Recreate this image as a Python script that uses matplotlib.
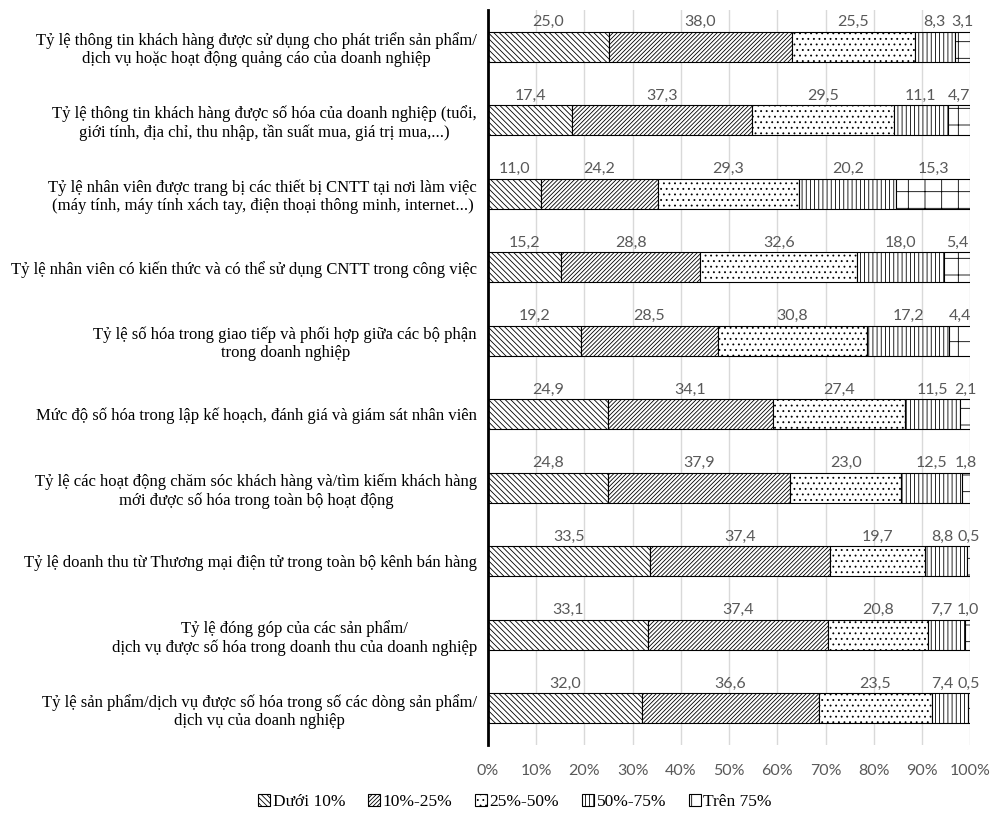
import numpy as np
import matplotlib
matplotlib.use('Agg')
import matplotlib.pyplot as plt
from matplotlib.patches import Patch

plt.rcParams['hatch.linewidth'] = 0.6

categories = [
    'Tỷ lệ thông tin khách hàng được sử dụng cho phát triển sản phẩm/\ndịch vụ hoặc hoạt động quảng cáo của doanh nghiệp',
    'Tỷ lệ thông tin khách hàng được số hóa của doanh nghiệp (tuổi,\ngiới tính, địa chỉ, thu nhập, tần suất mua, giá trị mua,...)',
    'Tỷ lệ nhân viên được trang bị các thiết bị CNTT tại nơi làm việc\n(máy tính, máy tính xách tay, điện thoại thông minh, internet...)',
    'Tỷ lệ nhân viên có kiến thức và có thể sử dụng CNTT trong công việc',
    'Tỷ lệ số hóa trong giao tiếp và phối hợp giữa các bộ phận\ntrong doanh nghiệp',
    'Mức độ số hóa trong lập kế hoạch, đánh giá và giám sát nhân viên',
    'Tỷ lệ các hoạt động chăm sóc khách hàng và/tìm kiếm khách hàng\nmới được số hóa trong toàn bộ hoạt động',
    'Tỷ lệ doanh thu từ Thương mại điện tử trong toàn bộ kênh bán hàng',
    'Tỷ lệ đóng góp của các sản phẩm/\ndịch vụ được số hóa trong doanh thu của doanh nghiệp',
    'Tỷ lệ sản phẩm/dịch vụ được số hóa trong số các dòng sản phẩm/\ndịch vụ của doanh nghiệp',
]

series_names = ['Dưới 10%', '10%-25%', '25%-50%', '50%-75%', 'Trên 75%']

duoi_10 = [25.0, 17.4, 11.0, 15.2, 19.2, 24.9, 24.8, 33.5, 33.1, 32.0]
tu_10_25 = [38.0, 37.3, 24.2, 28.8, 28.5, 34.1, 37.9, 37.4, 37.4, 36.6]
tu_25_50 = [25.5, 29.5, 29.3, 32.6, 30.8, 27.4, 23.0, 19.7, 20.8, 23.5]
tu_50_75 = [8.3, 11.1, 20.2, 18.0, 17.2, 11.5, 12.5, 8.8, 7.7, 7.4]
tren_75 = [3.1, 4.7, 15.3, 5.4, 4.4, 2.1, 1.8, 0.5, 1.0, 0.5]

hatches = ['\\\\\\\\\\\\', '////////', '...', '||||', '+']

series = [duoi_10, tu_10_25, tu_25_50, tu_50_75, tren_75]

num_font = 'Lato'
serif_font = 'Liberation Serif'

fig = plt.figure(figsize=(9.9, 8.21), dpi=100)
ax = fig.add_axes([0.493, 0.0926, 0.487, 0.8954])

y = np.arange(len(categories))
left = np.zeros(len(categories))
labels = [[] for _ in y]
for name, vals, h in zip(series_names, series, hatches):
    vals = np.array(vals)
    ax.barh(y, vals, left=left, height=0.41, color='white', edgecolor='black',
            hatch=h, linewidth=0.8, zorder=3)
    for yi, l, v in zip(y, left, vals):
        t = ax.text(l + v / 2, yi - 0.24, '{:.1f}'.format(v).replace('.', ','),
                    ha='center', va='bottom', fontsize=11.5, color='#595959',
                    family=num_font, zorder=4)
        labels[yi].append(t)
    left += vals

ax.set_xlim(0, 100)
ax.set_ylim(len(categories) - 0.5, -0.5)
ax.set_xticks(np.arange(0, 101, 10))
ax.set_xticklabels(['{}%'.format(v) for v in range(0, 101, 10)],
                   fontsize=11.5, color='#595959', family=num_font)
ax.set_yticks(y)
ax.set_yticklabels(categories, fontsize=12, family=serif_font)
for t in ax.get_yticklabels():
    t.set_multialignment('center')
ax.tick_params(axis='x', length=0, pad=14)
ax.tick_params(axis='y', length=0, pad=8)
ax.xaxis.grid(True, color='#d9d9d9', linewidth=1, zorder=0)
ax.set_axisbelow(True)
for s in ['top', 'right', 'bottom']:
    ax.spines[s].set_visible(False)
ax.spines['left'].set_linewidth(2)
ax.spines['left'].set_zorder(5)

# push crowded value labels to the left so neighbours don't collide
fig.canvas.draw()
renderer = fig.canvas.get_renderer()
inv = ax.transData.inverted()
for row in labels:
    for i in range(len(row) - 2, -1, -1):
        a = row[i].get_window_extent(renderer)
        b = row[i + 1].get_window_extent(renderer)
        overlap = a.x1 + 4 - b.x0
        if overlap > 0:
            x, yy = row[i].get_position()
            px = ax.transData.transform((x, yy))[0] - overlap
            row[i].set_x(inv.transform((px, 0))[0])

handles = [Patch(facecolor='white', edgecolor='black', hatch=h, linewidth=0.8)
           for h in hatches]
fig.legend(handles, series_names, loc='center', bbox_to_anchor=(515 / 990, 1 - 802 / 821),
           ncol=5, frameon=False, handlelength=0.7, handleheight=0.7,
           handletextpad=0.15, columnspacing=1.3,
           prop={'family': serif_font, 'size': 12.5})

fig.savefig('out.png', dpi=100)
